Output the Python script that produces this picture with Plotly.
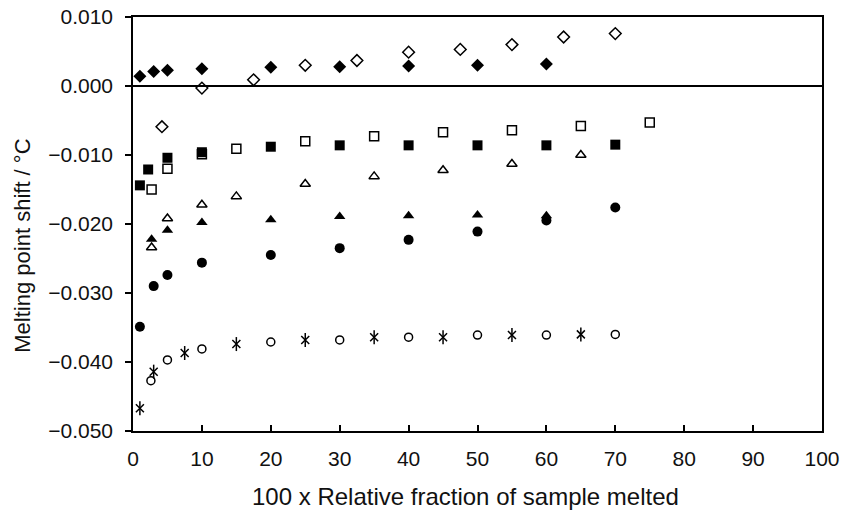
import plotly.graph_objects as go

# Filled diamonds
fd_x = [1, 3, 5, 10, 20, 30, 40, 50, 60]
fd_y = [0.0014, 0.0021, 0.0023, 0.0025, 0.0027, 0.0028, 0.0029, 0.0030, 0.0032]
# Open diamonds
od_x = [4.2, 10, 17.5, 25, 32.5, 40, 47.5, 55, 62.5, 70]
od_y = [-0.0059, -0.0003, 0.0009, 0.0030, 0.0037, 0.0049, 0.0053, 0.0060, 0.0071, 0.0076]
# Filled squares
fs_x = [1, 2.2, 5, 10, 20, 30, 40, 50, 60, 70]
fs_y = [-0.0144, -0.0121, -0.0104, -0.0096, -0.0088, -0.0086, -0.0086, -0.0086, -0.0086, -0.0085]
# Open squares
os_x = [2.7, 5, 10, 15, 25, 35, 45, 55, 65, 75]
os_y = [-0.0150, -0.0120, -0.0099, -0.0091, -0.0080, -0.0073, -0.0067, -0.0064, -0.0058, -0.0053]
# Open triangles
ot_x = [2.7, 5, 10, 15, 25, 35, 45, 55, 65]
ot_y = [-0.0234, -0.0192, -0.0172, -0.0160, -0.0142, -0.0131, -0.0122, -0.0113, -0.0100]
# Filled triangles
ft_x = [2.7, 5, 10, 20, 30, 40, 50, 60]
ft_y = [-0.0222, -0.0209, -0.0198, -0.0194, -0.0189, -0.0188, -0.0187, -0.0188]
# Filled circles
fc_x = [1, 3, 5, 10, 20, 30, 40, 50, 60, 70]
fc_y = [-0.0349, -0.0290, -0.0274, -0.0256, -0.0245, -0.0235, -0.0223, -0.0211, -0.0195, -0.0176]
# Open circles
oc_x = [2.6, 5, 10, 20, 30, 40, 50, 60, 70]
oc_y = [-0.0427, -0.0397, -0.0381, -0.0371, -0.0368, -0.0364, -0.0361, -0.0361, -0.0360]
# Asterisks
as_x = [1, 3, 7.5, 15, 25, 35, 45, 55, 65]
as_y = [-0.0467, -0.0414, -0.0387, -0.0374, -0.0368, -0.0364, -0.0364, -0.0361, -0.0360]

x_ticks = [0, 10, 20, 30, 40, 50, 60, 70, 80, 90, 100]
y_ticks = [0.010, 0.000, -0.010, -0.020, -0.030, -0.040, -0.050]
y_labels = ["0.010", "0.000", "\u22120.010", "\u22120.020", "\u22120.030", "\u22120.040", "\u22120.050"]
x_title = "100 x Relative fraction of sample melted"
y_title = "Melting point shift / \u00b0C"

fig = go.Figure()

def add(x, y, symbol, size, lw=1.5):
    fig.add_trace(go.Scatter(x=x, y=y, mode="markers",
                             marker=dict(symbol=symbol, size=size, color="black",
                                         line=dict(color="black", width=lw)),
                             showlegend=False, cliponaxis=False))

add(fd_x, fd_y, "diamond", 10, 0)
add(od_x, od_y, "diamond-open", 9)
add(fs_x, fs_y, "square", 10, 0)
add(os_x, os_y, "square-open", 9)
add(ot_x, ot_y, "triangle-up-open", 9)
add(ft_x, ft_y, "triangle-up", 10, 0)
add(fc_x, fc_y, "circle", 10, 0)
add(oc_x, oc_y, "circle-open", 8)
add(as_x, as_y, "x-thin-open", 8, 1.5)
add(as_x, as_y, "line-ns-open", 10, 1.5)

fam = "Liberation Sans, Arial, sans-serif"
txt = "#111"

fig.update_layout(
    width=847, height=511,
    margin=dict(l=133, r=25, t=17, b=80),
    paper_bgcolor="white", plot_bgcolor="white",
    font=dict(family=fam, size=20, color=txt),
    xaxis=dict(range=[0, 100], tickvals=x_ticks, ticks="inside", ticklen=6,
               tickwidth=1.5, tickcolor="black", showgrid=False, zeroline=False,
               showline=True, linecolor="black", linewidth=1.5, mirror=True,
               ticklabelstandoff=8, automargin=False,
               tickfont=dict(family=fam, size=21, color=txt)),
    yaxis=dict(range=[-0.050, 0.010], tickvals=y_ticks, ticktext=y_labels,
               ticks="outside", ticklen=6, tickwidth=1.5, tickcolor="black",
               showgrid=False, zeroline=True, zerolinecolor="black", zerolinewidth=1.5,
               showline=True, linecolor="black", linewidth=1.5, mirror=True,
               ticklabelstandoff=8, automargin=False,
               tickfont=dict(family=fam, size=21, color=txt)),
    annotations=[
        dict(text=x_title, xref="paper", yref="paper", x=0.483, y=-0.158,
             xanchor="center", yanchor="middle", showarrow=False,
             font=dict(family=fam, size=24, color=txt)),
        dict(text=y_title, xref="paper", yref="paper", x=-0.16, y=0.447,
             xanchor="center", yanchor="middle", textangle=-90, showarrow=False,
             font=dict(family=fam, size=22, color=txt)),
    ],
)

fig.write_html("out.html")
